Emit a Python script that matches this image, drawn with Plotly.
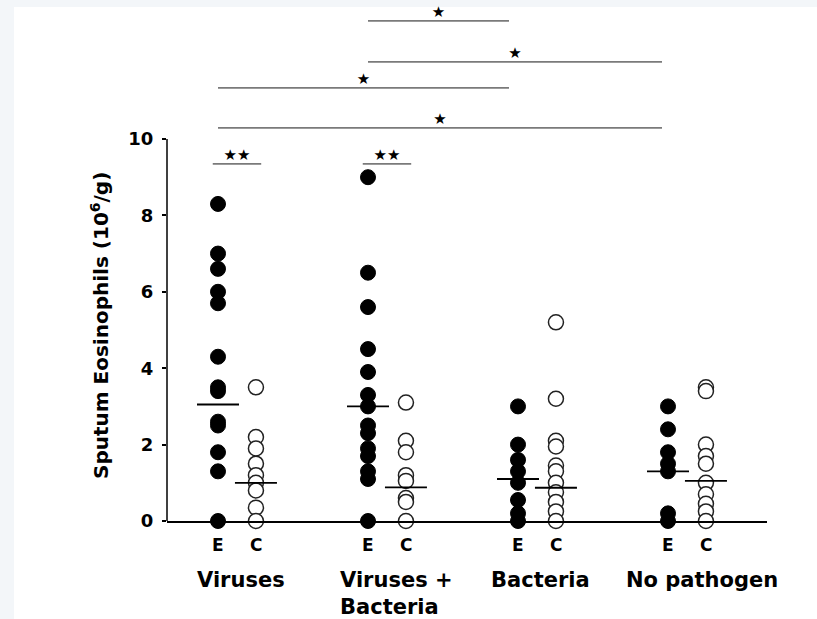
import plotly.graph_objects as go

groups = ["Viruses", "Viruses +<br>Bacteria", "Bacteria", "No pathogen"]
group_pos = [0, 1, 2, 3]
c_offset = 0.253

exac = [
    [8.3, 7.0, 6.6, 6.0, 5.7, 4.3, 3.5, 3.4, 2.6, 2.5, 1.8, 1.3, 0],
    [9.0, 6.5, 5.6, 4.5, 3.9, 3.3, 3.0, 2.5, 2.3, 1.9, 1.7, 1.3, 1.1, 0],
    [3.0, 2.0, 1.6, 1.3, 1.0, 0.55, 0.2, 0],
    [3.0, 2.4, 1.8, 1.5, 1.3, 0.2, 0],
]
conv = [
    [3.5, 2.2, 1.9, 1.5, 1.2, 1.0, 0.8, 0.35, 0],
    [3.1, 2.1, 1.8, 1.2, 1.05, 0.6, 0.5, 0],
    [5.2, 3.2, 2.1, 1.95, 1.45, 1.3, 1.0, 0.75, 0.5, 0.25, 0],
    [3.5, 3.4, 2.0, 1.7, 1.5, 1.0, 0.7, 0.45, 0.25, 0],
]
exac_median = [3.05, 3.0, 1.1, 1.3]
conv_median = [1.0, 0.88, 0.87, 1.05]

# significance bars between groups (E positions)
sig_from = [1, 1, 0, 0]
sig_to = [1.94, 2.96, 1.94, 2.96]
sig_y = [13.09, 12.02, 11.34, 10.29]
sig_label = ["★", "★", "★", "★"]
# within-group bars (E vs C)
pair_groups = [0, 1]
pair_y = [9.35, 9.35]
pair_label = ["★★", "★★"]

yticks = [0, 2, 4, 6, 8, 10]

FONT = "DejaVu Sans"
fig = go.Figure()

# points
for i, g in enumerate(group_pos):
    fig.add_trace(go.Scatter(
        x=[g] * len(exac[i]), y=exac[i], mode="markers", cliponaxis=False,
        marker=dict(symbol="circle", size=15, color="black", line=dict(color="black", width=1)),
        showlegend=False, hoverinfo="y"))
    fig.add_trace(go.Scatter(
        x=[g + c_offset] * len(conv[i]), y=conv[i], mode="markers", cliponaxis=False,
        marker=dict(symbol="circle", size=15, color="white", line=dict(color="#222222", width=1.5)),
        showlegend=False, hoverinfo="y"))

# median lines
mx, my = [], []
hw = 0.14
for i, g in enumerate(group_pos):
    mx += [g - hw, g + hw, None, g + c_offset - hw, g + c_offset + hw, None]
    my += [exac_median[i], exac_median[i], None, conv_median[i], conv_median[i], None]
fig.add_trace(go.Scatter(x=mx, y=my, mode="lines", line=dict(color="black", width=1.8),
                         showlegend=False, hoverinfo="skip", cliponaxis=False))

# significance bars
lx, ly = [], []
tx, ty, tt = [], [], []
for a, b, y, lab in zip(sig_from, sig_to, sig_y, sig_label):
    lx += [group_pos[a], b, None]
    ly += [y, y, None]
    tx.append((group_pos[a] + b) / 2)
    ty.append(y)
    tt.append(lab)
for g, y, lab in zip(pair_groups, pair_y, pair_label):
    lx += [group_pos[g] - 0.035, group_pos[g] + c_offset + 0.035, None]
    ly += [y, y, None]
    tx.append(group_pos[g] + c_offset / 2)
    ty.append(y)
    tt.append(lab)
fig.add_trace(go.Scatter(x=lx, y=ly, mode="lines", line=dict(color="#7a7a7a", width=1.8),
                         showlegend=False, hoverinfo="skip", cliponaxis=False))
fig.add_trace(go.Scatter(x=tx, y=ty, mode="text", text=tt, textposition="top center",
                         textfont=dict(family=FONT, size=15, color="black"),
                         showlegend=False, hoverinfo="skip", cliponaxis=False))

annotations = []
label_xshift = [4, 10, 4, 15]
for i, g in enumerate(group_pos):
    for xo, lab in [(0, "E"), (c_offset, "C")]:
        annotations.append(dict(x=g + xo, y=0, xref="x", yref="y", text=lab, showarrow=False,
                                yanchor="middle", yshift=-24,
                                font=dict(family=FONT, size=17, color="black", weight="bold")))
    annotations.append(dict(x=g + c_offset / 2, y=0, xref="x", yref="y", text=groups[i],
                            showarrow=False, yanchor="top", yshift=-45, xshift=label_xshift[i],
                            align="left",
                            font=dict(family=FONT, size=21, color="black", weight="bold")))
annotations.append(dict(x=-0.1117, y=5.13, xref="paper", yref="y",
                        text="Sputum Eosinophils (10<sup>6</sup>/g)", textangle=-90,
                        showarrow=False, xanchor="center", yanchor="middle",
                        font=dict(family=FONT, size=20, color="black", weight="bold")))

shapes = [
    dict(type="rect", xref="paper", yref="paper", x0=-0.255, x1=1.1, y0=-0.2, y1=1.0,
         fillcolor="white", line=dict(width=0), layer="below"),
    dict(type="line", xref="paper", yref="y", x0=0, x1=0, y0=0, y1=10,
         line=dict(color="black", width=1.5)),
]

fig.update_layout(
    width=817, height=619,
    margin=dict(l=167, r=50, t=7, b=98),
    paper_bgcolor="#f3f6f9", plot_bgcolor="white",
    showlegend=False,
    annotations=annotations, shapes=shapes,
    xaxis=dict(range=[-0.34, 3.66], showline=True, linecolor="black", linewidth=1.5,
               showticklabels=False, ticks="", showgrid=False, zeroline=False),
    yaxis=dict(range=[0, 13.455], tickvals=yticks, ticks="outside", ticklen=4,
               tickwidth=1.5, tickcolor="black", showline=False, showgrid=False,
               zeroline=False, ticklabelstandoff=5,
               tickfont=dict(family=FONT, size=18, color="black", weight="bold")),
)

fig.write_html("out.html")
